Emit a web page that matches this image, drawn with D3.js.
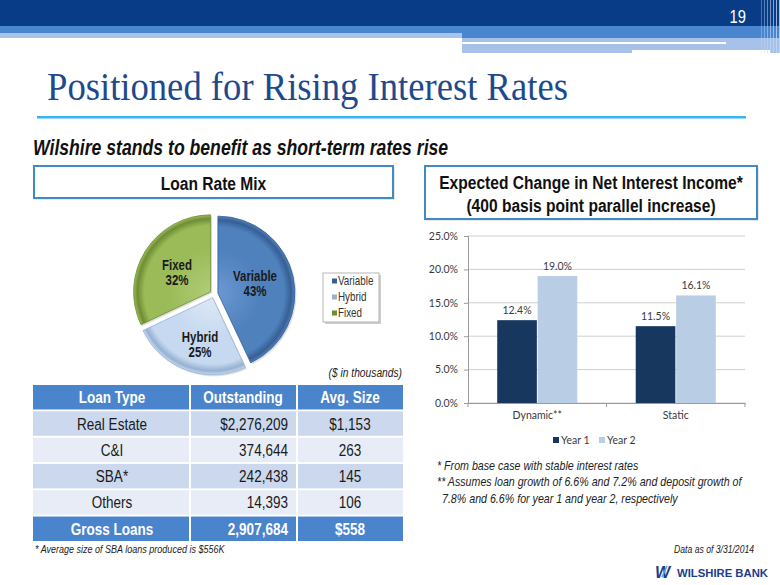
<!DOCTYPE html>
<html><head><meta charset="utf-8">
<script src="https://cdn.jsdelivr.net/npm/d3@7"></script>
<style>html,body{margin:0;padding:0;background:#fff;}svg{display:block;}</style>
</head><body>
<script>
// ---------------- data ----------------
const pieLabels = ["Variable", "Hybrid", "Fixed"];
const pieValues = [43, 25, 32];
const tableHeaders = ["Loan Type", "Outstanding", "Avg. Size"];
const loanTypes = ["Real Estate", "C&I", "SBA*", "Others"];
const outstanding = ["$2,276,209", "374,644", "242,438", "14,393"];
const avgSize = ["$1,153", "263", "145", "106"];
const totalRow = ["Gross Loans", "2,907,684", "$558"];
const barCategories = ["Dynamic**", "Static"];
const barSeries = ["Year 1", "Year 2"];
const year1 = [12.4, 11.5];
const year2 = [19.0, 16.1];
const yTicks = [0, 5, 10, 15, 20, 25];

// ---------------- setup ----------------
const W = 780, H = 585;
const svg = d3.select("body").append("svg").attr("width", W).attr("height", H);

const NARROW = "'Liberation Sans',Arial,sans-serif";
const SANS = "'Liberation Sans',Arial,sans-serif";
const CAL = "Lato,'Open Sans',sans-serif";
const SQUEEZE = 0.82;

function txt(parent, x, y, str, o) {
  o = o || {};
  const narrow = !o.family;
  const t = parent.append("text")
    .attr("x", narrow ? x / SQUEEZE : x).attr("y", y)
    .attr("font-family", o.family || NARROW)
    .attr("font-size", o.size || 12)
    .attr("font-weight", o.weight || "normal")
    .attr("font-style", o.style || "normal")
    .attr("text-anchor", o.anchor || "start")
    .attr("fill", o.fill || "#1a1a1a")
    .text(str);
  if (narrow) t.attr("transform", `scale(${SQUEEZE},1)`);
  return t;
}

const defs = svg.append("defs");

// ---------------- header ----------------
const hdr = svg.append("g");
hdr.append("rect").attr("x", 0).attr("y", 0).attr("width", W).attr("height", 26).attr("fill", "#083c87");
hdr.append("rect").attr("x", 0).attr("y", 26).attr("width", 462).attr("height", 7).attr("fill", "#4a86d0");
hdr.append("rect").attr("x", 0).attr("y", 33).attr("width", 462).attr("height", 5).attr("fill", "#a9c4ea");
hdr.append("rect").attr("x", 462).attr("y", 26).attr("width", W - 462).attr("height", 12).attr("fill", "#4a86d0");
hdr.append("rect").attr("x", 462).attr("y", 38).attr("width", W - 462).attr("height", 15).attr("fill", "#a6c2ea");
hdr.append("rect").attr("x", 462).attr("y", 42).attr("width", 264).attr("height", 2).attr("fill", "#ffffff");
hdr.append("rect").attr("x", 632).attr("y", 50).attr("width", 138).attr("height", 3).attr("fill", "#ffffff");
[761, 764, 767, 770, 773, 776, 779].forEach((x, i) => {
  hdr.append("rect").attr("x", x).attr("y", 0).attr("width", 1).attr("height", 53)
    .attr("fill", "#c8d8f0").attr("opacity", 0.35 + 0.08 * i);
});
txt(hdr, 746, 23, "19", {size: 18, fill: "#ffffff", anchor: "end"});

// ---------------- title ----------------
svg.append("text").attr("x", 47).attr("y", 100)
  .attr("font-family", "'Liberation Serif','DejaVu Serif',serif").attr("font-size", 40)
  .attr("fill", "#1d4a8c").attr("textLength", 521).attr("lengthAdjust", "spacingAndGlyphs")
  .text("Positioned for Rising Interest Rates");
svg.append("rect").attr("x", 37).attr("y", 116).attr("width", 709).attr("height", 2.5).attr("fill", "#38b4f4");

txt(svg, 33, 155, "Wilshire stands to benefit as short-term rates rise",
  {size: 21.5, weight: "bold", style: "italic", fill: "#111"});

// ---------------- boxes ----------------
function box(x, y, w, h) {
  svg.append("rect").attr("x", x + 1.5).attr("y", y + 1.5).attr("width", w).attr("height", h).attr("fill", "#d0d0d0");
  svg.append("rect").attr("x", x).attr("y", y).attr("width", w).attr("height", h)
    .attr("fill", "#fff").attr("stroke", "#3f8bc6").attr("stroke-width", 2);
}
box(34, 166, 359, 32);
txt(svg, 213.5, 190, "Loan Rate Mix", {size: 19, weight: "bold", anchor: "middle", fill: "#111"});
box(425, 166, 332, 53);
txt(svg, 591, 189, "Expected Change in Net Interest Income*", {size: 19, weight: "bold", anchor: "middle", fill: "#111"});
txt(svg, 591, 212, "(400 basis point parallel increase)", {size: 19, weight: "bold", anchor: "middle", fill: "#111"});

// ---------------- pie ----------------
const pieColors = {
  Variable: ["#6a98d2", "#4f81bd", "#375f94"],
  Hybrid: ["#dde8f6", "#c6d9f0", "#97b1d3"],
  Fixed: ["#b0cc78", "#9bbb59", "#6f8d34"]
};
const pieG = svg.append("g").attr("transform", "translate(214,294)");
const R = 77, explode = 4;
const arcs = d3.pie().sort(null).value(d => d.v)(pieLabels.map((l, i) => ({l, v: pieValues[i]})));
const arcGen = d3.arc().innerRadius(0).outerRadius(R);
arcs.forEach((a, i) => {
  const c = pieColors[a.data.l];
  const gid = "pg" + i;
  const gr = defs.append("radialGradient").attr("id", gid).attr("gradientUnits", "userSpaceOnUse")
    .attr("cx", 0).attr("cy", 0).attr("r", R);
  gr.append("stop").attr("offset", "0").attr("stop-color", c[0]);
  gr.append("stop").attr("offset", "0.55").attr("stop-color", c[1]);
  gr.append("stop").attr("offset", "0.86").attr("stop-color", c[1]);
  gr.append("stop").attr("offset", "0.95").attr("stop-color", c[2]);
  gr.append("stop").attr("offset", "1").attr("stop-color", c[1]);
  const mid = (a.startAngle + a.endAngle) / 2;
  const dx = explode * Math.sin(mid), dy = -explode * Math.cos(mid);
  const sg = pieG.append("g").attr("transform", `translate(${dx},${dy})`);
  sg.append("path").attr("d", arcGen(a)).attr("fill", "#000").attr("opacity", 0.12)
    .attr("transform", "translate(1.5,1.5)");
  sg.append("path").attr("d", arcGen(a)).attr("fill", `url(#${gid})`)
    .attr("stroke", c[2]).attr("stroke-width", 0.8);
});
const pieLabelPos = {Variable: [41, -13], Hybrid: [-14, 48], Fixed: [-37, -24]};
arcs.forEach(a => {
  const p = pieLabelPos[a.data.l];
  txt(pieG, p[0], p[1], a.data.l, {size: 14, weight: "bold", anchor: "middle", fill: "#1a1a1a"});
  txt(pieG, p[0], p[1] + 15, a.data.v + "%", {size: 14, weight: "bold", anchor: "middle", fill: "#1a1a1a"});
});

// pie legend
const lg = svg.append("g");
lg.append("rect").attr("x", 325).attr("y", 275).attr("width", 56).attr("height", 49).attr("fill", "#cfcfcf");
lg.append("rect").attr("x", 323).attr("y", 273).attr("width", 56).attr("height", 49)
  .attr("fill", "#fff").attr("stroke", "#b5b5b5").attr("stroke-width", 1);
pieLabels.forEach((l, i) => {
  const y = 281 + i * 16;
  lg.append("rect").attr("x", 332).attr("y", y - 2.5).attr("width", 5).attr("height", 5).attr("fill", pieColors[l][2]);
  txt(lg, 338, y + 4, l, {size: 12, fill: "#333"});
});
txt(svg, 402, 377, "($ in thousands)", {size: 12.5, style: "italic", anchor: "end", fill: "#222"});

// ---------------- table ----------------
const tbl = svg.append("g");
const colEdges = [33, 190, 297, 403];
const rowsAll = [tableHeaders].concat(loanTypes.map((t, i) => [t, outstanding[i], avgSize[i]])).concat([totalRow]);
const rowY = d3.scaleBand().domain(d3.range(rowsAll.length)).range([385, 541]).paddingInner(0.07);
const rowFill = ["#4a84cd", "#cbd8ed", "#e7ecf6", "#cbd8ed", "#e7ecf6", "#4a84cd"];
rowsAll.forEach((row, ri) => {
  const y0 = rowY(ri), h = rowY.bandwidth();
  const isHead = ri === 0 || ri === rowsAll.length - 1;
  row.forEach((cell, ci) => {
    const x0 = colEdges[ci] + (ci > 0 ? 1 : 0), x1 = colEdges[ci + 1] - (ci < 2 ? 1 : 0);
    tbl.append("rect").attr("x", x0).attr("y", y0).attr("width", x1 - x0).attr("height", h).attr("fill", rowFill[ri]);
    let tx, anchor;
    if (ci === 1 && ri > 0) { tx = 288; anchor = "end"; }
    else { tx = (colEdges[ci] + colEdges[ci + 1]) / 2; anchor = "middle"; }
    if (ci === 1 && ri === 0) tx = 243;
    if (ci === 0) tx = 112;
    txt(tbl, tx, y0 + h / 2 + 6, cell, {size: 16.5, weight: isHead ? "bold" : "normal", anchor,
      fill: isHead ? "#ffffff" : "#1a1a1a"});
  });
});
txt(svg, 35, 553, "* Average size of SBA loans produced is $556K", {size: 11, style: "italic", fill: "#222"});

// ---------------- bar chart ----------------
const bc = svg.append("g");
const x0 = d3.scaleBand().domain(barCategories).range([468, 745]).paddingInner(0.422).paddingOuter(0.211);
const x1 = d3.scaleBand().domain(barSeries).range([0, x0.bandwidth()]).paddingInner(0.02);
const y = d3.scaleLinear().domain([0, 25]).range([403, 236]);
const barColors = {"Year 1": "#17375e", "Year 2": "#b9cde5"};

bc.selectAll("line.grid").data(yTicks).join("line").attr("class", "grid")
  .attr("x1", 468).attr("x2", 745).attr("y1", d => y(d)).attr("y2", d => y(d))
  .attr("stroke", "#cfcfcf").attr("stroke-width", 1);

const yAxis = bc.append("g").attr("transform", "translate(468,0)")
  .call(d3.axisLeft(y).tickValues(yTicks).tickFormat(d => d.toFixed(1) + "%").tickSize(4).tickPadding(6));
yAxis.select(".domain").attr("stroke", "#9a9a9a");
yAxis.selectAll(".tick line").attr("stroke", "#9a9a9a");
yAxis.selectAll(".tick text").attr("font-family", CAL).attr("font-size", 10.5).attr("fill", "#3a3a3a");

const xAxis = bc.append("g").attr("transform", "translate(0,403)")
  .call(d3.axisBottom(x0).tickSize(0).tickPadding(9));
xAxis.select(".domain").attr("stroke", "#9a9a9a");
xAxis.selectAll(".tick text").attr("font-family", CAL).attr("font-size", 10.5).attr("fill", "#3a3a3a");
const bounds = [x0.range()[0]].concat(barCategories.map(c => x0(c) + x0.bandwidth() + x0.step() * x0.paddingInner() / 2));
bounds[bounds.length - 1] = x0.range()[1];
bc.selectAll("line.xt").data(bounds).join("line").attr("class", "xt")
  .attr("x1", d => d).attr("x2", d => d).attr("y1", 403).attr("y2", 407).attr("stroke", "#9a9a9a");

const barData = [];
barCategories.forEach((c, i) => {
  barData.push({c, s: "Year 1", v: year1[i]});
  barData.push({c, s: "Year 2", v: year2[i]});
});
bc.selectAll("rect.bar").data(barData).join("rect").attr("class", "bar")
  .attr("x", d => x0(d.c) + x1(d.s)).attr("width", x1.bandwidth())
  .attr("y", d => y(d.v)).attr("height", d => y(0) - y(d.v))
  .attr("fill", d => barColors[d.s]);
barData.forEach(d => {
  txt(bc, x0(d.c) + x1(d.s) + x1.bandwidth() / 2, y(d.v) - 6, d.v.toFixed(1) + "%",
    {family: CAL, size: 10.5, anchor: "middle", fill: "#3a3a3a"});
});
// legend
const bl = [[553, "Year 1"], [599, "Year 2"]];
bl.forEach(([lx, s]) => {
  bc.append("rect").attr("x", lx).attr("y", 437).attr("width", 6).attr("height", 6).attr("fill", barColors[s]);
  txt(bc, lx + 8, 444, s, {family: CAL, size: 10.5, fill: "#3a3a3a"});
});

// ---------------- footnotes ----------------
txt(svg, 437, 470, "* From base case with stable interest rates", {size: 13, style: "italic", fill: "#222"});
txt(svg, 437, 486.5, "** Assumes loan growth of 6.6% and 7.2% and deposit growth of", {size: 13, style: "italic", fill: "#222"});
txt(svg, 442, 503, "7.8% and 6.6% for year 1 and year 2, respectively", {size: 13, style: "italic", fill: "#222"});
txt(svg, 754, 553, "Data as of 3/31/2014", {size: 10.5, style: "italic", anchor: "end", fill: "#222"});

// ---------------- logo ----------------
const logo = svg.append("g");
logo.append("text").attr("x", 655).attr("y", 577.5).attr("font-family", SANS).attr("font-size", 16)
  .attr("font-weight", "bold").attr("font-style", "italic").attr("fill", "#1b3f8f").text("W");
logo.append("line").attr("x1", 667).attr("y1", 566).attr("x2", 662).attr("y2", 577)
  .attr("stroke", "#5aa0e0").attr("stroke-width", 1.6);
logo.append("text").attr("x", 677).attr("y", 576.5).attr("font-family", SANS).attr("font-size", 11.5)
  .attr("font-weight", "bold").attr("fill", "#1c3d8c").attr("textLength", 91).attr("lengthAdjust", "spacingAndGlyphs")
  .text("WILSHIRE BANK");
</script>
</body></html>
